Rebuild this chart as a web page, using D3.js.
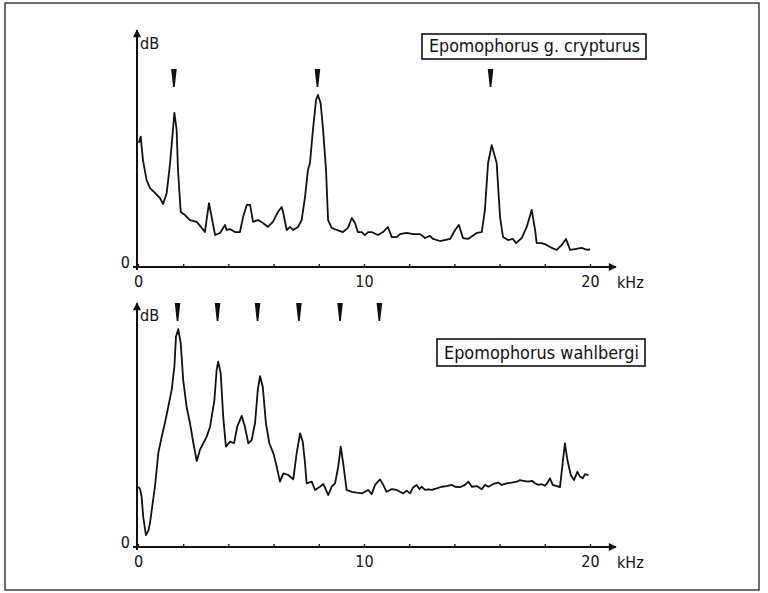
<!DOCTYPE html>
<html>
<head>
<meta charset="utf-8">
<script src="https://cdn.jsdelivr.net/npm/d3@7"></script>
<style>
    body { margin: 0; background: #fff; }
    text { font-family: "DejaVu Sans Condensed", "Liberation Sans Narrow", "DejaVu Sans", sans-serif; fill: #111; }
</style>
</head>
<body>
<svg id="chart"></svg>
<script>
const WIDTH = 768;
const HEIGHT = 593;

// Epomophorus g. crypturus spectrum (kHz, relative level)
const topFreq = [0.04, 0.12, 0.22, 0.38, 0.53, 0.75, 0.97, 1.11, 1.27, 1.42,
    1.61, 1.71, 1.77, 1.89, 2.08, 2.30, 2.60, 2.82, 2.96, 3.14,
    3.26, 3.41, 3.63, 3.85, 3.92, 4.07, 4.29, 4.51, 4.65, 4.81,
    4.96, 5.09, 5.31, 5.53, 5.75, 5.97, 6.19, 6.36, 6.42, 6.58,
    6.73, 6.86, 7.08, 7.24, 7.39, 7.52, 7.61, 7.74, 7.88, 7.96,
    8.08, 8.19, 8.32, 8.41, 8.57, 8.79, 9.07, 9.29, 9.46, 9.60,
    9.73, 9.90, 10.04, 10.18, 10.34, 10.62, 10.84, 11.06, 11.23, 11.45,
    11.59, 11.89, 12.17, 12.48, 12.70, 12.92, 13.05, 13.36, 13.81, 14.03,
    14.20, 14.38, 14.60, 14.99, 15.21, 15.35, 15.49, 15.65, 15.87, 16.02,
    16.15, 16.37, 16.59, 16.73, 16.98, 17.20, 17.42, 17.57, 17.64, 17.86,
    18.08, 18.31, 18.53, 18.75, 18.94, 19.12, 19.34, 19.63, 19.78, 19.91,
    20.0];
const topLevel = [54, 56.7, 46.5, 37.8, 34.3, 32.2, 30, 27.4, 32.2, 45.2,
    67, 59.6, 42.2, 23.9, 22.6, 20.4, 19.6, 17, 15.2, 27.8,
    21.7, 13.9, 14.8, 18.3, 16.1, 16.5, 15.2, 15.2, 21.7, 27,
    27, 19.6, 20.4, 19.1, 17.4, 19.6, 23.9, 26.1, 23.9, 16.1,
    17.4, 16.1, 17.4, 20.4, 30.4, 42.2, 45.2, 59.6, 72.6, 74.8,
    71.3, 59.6, 42.2, 20.4, 17, 16.1, 15.2, 17, 21.3, 19.1,
    15.2, 15.2, 13.9, 15.2, 15.2, 13.9, 15.2, 17.4, 13, 13,
    14.3, 14.8, 14.3, 14.3, 12.6, 13.5, 12.2, 11.3, 12.2, 16.1,
    18.3, 12.6, 12.2, 14.8, 15.2, 24.8, 45.2, 53, 45.2, 21.7,
    13, 11.7, 12.2, 10.4, 12.6, 17.4, 24.8, 16.1, 10.4, 10.4,
    9.6, 8.3, 7.4, 9.6, 12.2, 7.4, 7.8, 8.3, 7.8, 7.4,
    7.8];
const topMarkers = [1.59, 7.94, 15.6];

// Epomophorus wahlbergi spectrum
const bottomFreq = [0.01, 0.09, 0.16, 0.23, 0.35, 0.46, 0.53, 0.65, 0.75, 0.90,
    1.05, 1.19, 1.34, 1.49, 1.61, 1.68, 1.78, 1.89, 2.00, 2.15,
    2.30, 2.45, 2.60, 2.74, 2.89, 3.04, 3.19, 3.38, 3.48, 3.55,
    3.66, 3.77, 3.89, 4.07, 4.25, 4.39, 4.59, 4.73, 4.88, 5.03,
    5.18, 5.30, 5.40, 5.52, 5.66, 5.81, 5.99, 6.14, 6.28, 6.43,
    6.65, 6.87, 7.02, 7.17, 7.29, 7.39, 7.46, 7.69, 7.83, 8.05,
    8.20, 8.42, 8.57, 8.72, 8.86, 8.97, 9.08, 9.23, 9.46, 9.68,
    9.90, 10.04, 10.19, 10.34, 10.49, 10.71, 10.85, 11.00, 11.23, 11.45,
    11.59, 11.74, 11.89, 12.04, 12.18, 12.33, 12.45, 12.55, 12.70, 12.85,
    13.00, 13.22, 13.44, 13.66, 13.88, 14.03, 14.25, 14.47, 14.62, 14.77,
    14.99, 15.21, 15.35, 15.50, 15.72, 15.94, 16.09, 16.31, 16.54, 16.76,
    16.90, 17.05, 17.27, 17.42, 17.57, 17.71, 17.86, 18.01, 18.08, 18.23,
    18.35, 18.53, 18.67, 18.79, 18.89, 19.00, 19.15, 19.29, 19.44, 19.56,
    19.68, 19.78, 19.93];
const bottomLevel = [26.2, 25.2, 21.9, 13.2, 5.2, 7.1, 10.4, 19.1, 26.2, 40.9,
    48, 53.9, 61, 68.3, 78.4, 91.4, 94.7, 88.6, 72.6, 61,
    53.9, 45.1, 37.4, 42.2, 45.1, 48, 52.3, 63.9, 77, 80.6,
    75.5, 56.7, 43.6, 45.8, 45.1, 52.3, 57, 52.3, 45.1, 46.5,
    53.9, 68.3, 74.3, 69.7, 53.9, 45.1, 40.7, 34.9, 28.4, 32,
    31.3, 29.4, 40.7, 49.4, 45.8, 36.4, 27.7, 28.4, 24.8, 26.2,
    27.4, 22.6, 26.2, 27.7, 34.9, 43.6, 36.4, 24.8, 24, 23.6,
    23.3, 24, 24.8, 23, 27, 29.4, 27, 24, 25.2, 24.8,
    24, 23.3, 24.5, 23.3, 26, 27, 25.2, 26.2, 24.8, 25.1,
    24.8, 25.5, 26.2, 26.5, 27, 26.2, 26, 27, 28.4, 26.2,
    26.5, 25.1, 27, 26.2, 27.4, 28, 27, 27.7, 28, 28.4,
    29.1, 28.8, 28.4, 28.8, 27.7, 27, 27.3, 26.7, 27.4, 29.9,
    27, 26.5, 26, 36.4, 45.1, 37.8, 31.3, 29.1, 32.7, 30.6,
    29.9, 31.7, 31.3];
const bottomMarkers = [1.75, 3.52, 5.29, 7.12, 8.94, 10.68];

const xTicks = [0, 2, 4, 6, 8, 10, 12, 14, 16, 18, 20];
const xLabels = [0, 10, 20];

function zip(xs, ys) {
    return xs.map((x, i) => [x, ys[i]]);
}

let svg = d3.select('#chart')
    .attr('width', WIDTH)
    .attr('height', HEIGHT);

svg.append('rect')
    .attr('width', WIDTH).attr('height', HEIGHT)
    .attr('fill', '#fff');

// outer frame
svg.append('rect')
    .attr('x', 5).attr('y', 3)
    .attr('width', 754).attr('height', 587)
    .attr('fill', 'none')
    .attr('stroke', '#222')
    .attr('stroke-width', 1.3);

svg.append('defs').append('marker')
    .attr('id', 'arrow')
    .attr('viewBox', '0 0 10 10')
    .attr('refX', 9).attr('refY', 5)
    .attr('markerWidth', 5).attr('markerHeight', 4)
    .attr('markerUnits', 'strokeWidth')
    .attr('orient', 'auto')
    .append('path')
    .attr('d', 'M0,0L10,5L0,10Z')
    .attr('fill', '#111');

let x = d3.scaleLinear().domain([0, 20]).range([138, 590]);

function makePanel(opts) {
    let y = d3.scaleLinear().domain([0, 100]).range([opts.y0, opts.y0 - 230]);
    let g = svg.append('g');

    // tick marks + labels
    let axis = d3.axisBottom(x)
        .tickValues(xTicks)
        .tickSizeInner(-3)
        .tickSizeOuter(0)
        .tickPadding(9)
        .tickFormat(d => xLabels.includes(d) ? d : '');
    let ax = g.append('g')
        .attr('transform', `translate(0,${opts.y0})`)
        .call(axis);
    ax.select('.domain').remove();
    ax.selectAll('.tick line').attr('stroke', '#111').attr('stroke-width', 1.3);
    ax.selectAll('.tick text')
        .attr('font-size', 16)
        .attr('fill', '#111')
        .style('font-family', '"DejaVu Sans Condensed", "DejaVu Sans", sans-serif');

    // axis lines with arrows
    g.append('line')
        .attr('x1', x(0) - 5).attr('x2', x(20) + 26)
        .attr('y1', opts.y0).attr('y2', opts.y0)
        .attr('stroke', '#111').attr('stroke-width', 2)
        .attr('marker-end', 'url(#arrow)');
    g.append('line')
        .attr('x1', x(0) - 1).attr('x2', x(0) - 1)
        .attr('y1', opts.y0 + 3).attr('y2', opts.y0 - opts.axisLen)
        .attr('stroke', '#111').attr('stroke-width', 2)
        .attr('marker-end', 'url(#arrow)');

    g.append('text')
        .attr('x', x(0) - 8).attr('y', opts.y0 + 1)
        .attr('text-anchor', 'end')
        .attr('font-size', 16)
        .text('0');
    g.append('text')
        .attr('x', x(0) + 2).attr('y', opts.dbY)
        .attr('font-size', 16)
        .text('dB');
    g.append('text')
        .attr('x', x(20) + 27).attr('y', opts.y0 + 21)
        .attr('font-size', 16)
        .text('kHz');

    // spectrum
    let line = d3.line()
        .x(d => x(d[0]))
        .y(d => y(d[1]));
    g.append('path')
        .datum(zip(opts.freq, opts.level))
        .attr('d', line)
        .attr('fill', 'none')
        .attr('stroke', '#111')
        .attr('stroke-width', 1.8)
        .attr('stroke-linejoin', 'round');

    // harmonic markers
    g.selectAll('.marker')
        .data(opts.markers)
        .enter().append('path')
        .attr('class', 'marker')
        .attr('d', d => {
            let cx = x(d), t = opts.markTop, b = t + 18;
            return `M${cx - 2.8},${t}L${cx + 2.8},${t}L${cx + 0.8},${b}L${cx - 0.8},${b}Z`;
        })
        .attr('fill', '#111');

    // species label
    let box = opts.box;
    g.append('rect')
        .attr('x', box[0]).attr('y', box[1])
        .attr('width', box[2]).attr('height', box[3])
        .attr('fill', '#fff')
        .attr('stroke', '#111')
        .attr('stroke-width', 1.6);
    g.append('text')
        .attr('x', box[0] + 7).attr('y', box[1] + box[3] - 7)
        .attr('font-size', 18)
        .attr('textLength', box[2] - 13)
        .attr('lengthAdjust', 'spacingAndGlyphs')
        .text(opts.name);
}

makePanel({
    y0: 267, axisLen: 237, dbY: 49,
    freq: topFreq, level: topLevel,
    markers: topMarkers, markTop: 69,
    name: 'Epomophorus g. crypturus',
    box: [422, 34, 224, 25],
});

makePanel({
    y0: 547, axisLen: 244, dbY: 321,
    freq: bottomFreq, level: bottomLevel,
    markers: bottomMarkers, markTop: 303,
    name: 'Epomophorus wahlbergi',
    box: [437, 339, 208, 27],
});
</script>
</body>
</html>
